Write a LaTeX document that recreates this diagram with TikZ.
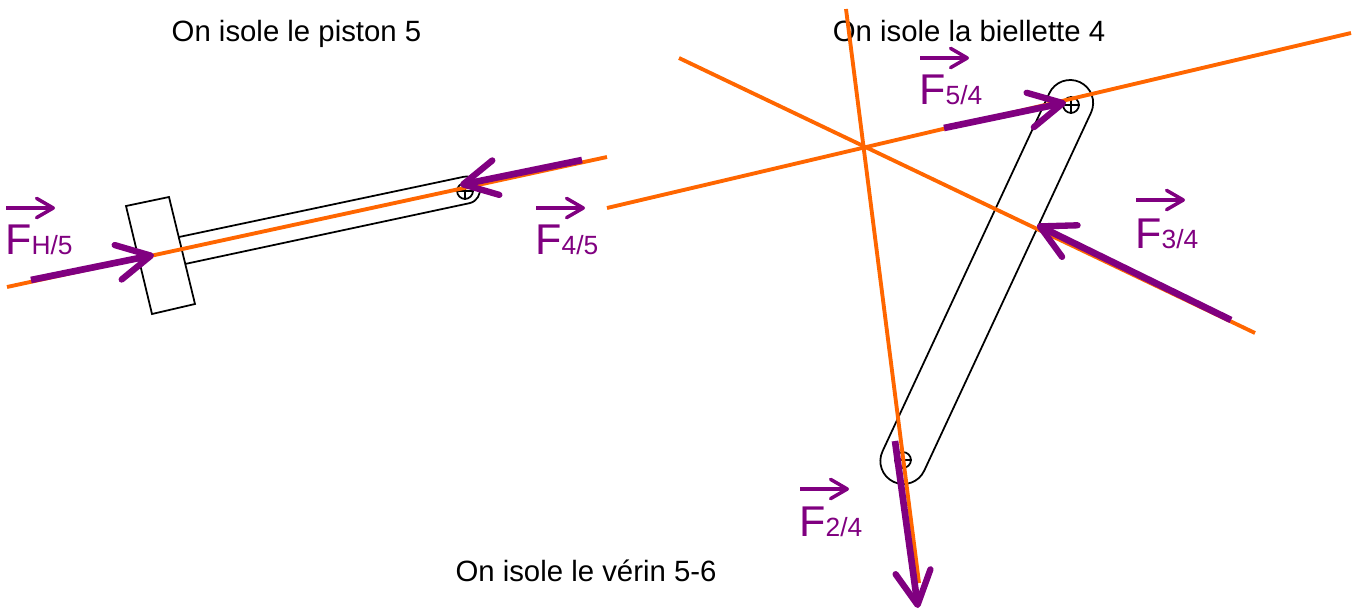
\documentclass[tikz,border=0pt]{standalone}
\usepackage{fontspec}
\setmainfont{Liberation Sans}
\usetikzlibrary{arrows.meta, positioning}
\definecolor{axe}{RGB}{255,102,0}
\definecolor{effort}{RGB}{128,0,128}

\begin{document}
\begin{tikzpicture}[
        x=0.02cm, y=0.02cm,
        titre/.style={anchor=base, font=\fontsize{16.7}{20}\selectfont},
        solide/.style={draw=black, line width=1pt},
        pivot/.style={circle, draw=black, line width=1pt, minimum size=9pt, inner sep=0pt},
        support/.style={draw=axe, line width=2.2pt},
        force/.style={draw=effort, line width=3.8pt, -{Straight Barb[round, length=19pt, width=20pt, line width=3.6pt]}},
        vecteur/.style={draw=effort, line width=2pt, -{Straight Barb[round, length=9.5pt, width=11pt, line width=2pt]}},
        nomforce/.style={text=effort, anchor=base west, inner sep=0pt, font=\fontsize{24.5}{29}\selectfont}
    ]
        \useasboundingbox (0,0) rectangle (1359,-609);

        % Titles
        \node[titre] (T1) at (296.5,-41) {On isole le piston 5};
        \node[titre] (T2) at (969,-41) {On isole la biellette 4};
        \node[titre] (T3) at (586,-581) {On isole le vérin 5-6};

        % Piston 5
        \coordinate (R1) at (126,-206);
        \coordinate (R2) at (169,-197);
        \coordinate (R3) at (195,-304);
        \coordinate (R4) at (152,-314);
        \draw[solide] (R1) -- (R2) -- (R3) -- (R4) -- cycle;
        \coordinate (S1) at (179,-237);
        \coordinate (S2) at (185,-264);
        \draw[solide] (S1) -- (463.7,-176.8) arc[start angle=102, end angle=-78, radius=13.5] -- (S2);
        \node[pivot] (P5) at (465,-191) {};
        \draw[solide] (P5.north) -- (P5.south) (P5.west) -- (P5.east);

        % Biellette 4
        \draw[solide] (1091,-112.7) arc[start angle=-25, end angle=155, radius=23]
            -- (882.5,-451.3) arc[start angle=155, end angle=335, radius=23] -- cycle;
        \node[pivot] (P4a) at (1071,-105) {};
        \node[pivot] (P4b) at (903,-460) {};
        \foreach \p in {P4a,P4b}
            \draw[solide] (\p.north) -- (\p.south) (\p.west) -- (\p.east);

        % Supports
        \coordinate (A1) at (7,-287);
        \coordinate (A2) at (607,-157);
        \coordinate (B1) at (607,-208);
        \coordinate (B2) at (1351,-33);
        \coordinate (C1) at (679,-58);
        \coordinate (C2) at (1255,-333);
        \coordinate (D1) at (846,-9);
        \coordinate (D2) at (919,-583);
        \draw[support] (A1) -- (A2);
        \draw[support] (B1) -- (B2);
        \draw[support] (C1) -- (C2);
        \draw[support] (D1) -- (D2);

        % Forces
        \coordinate (H5a) at (31,-280);
        \coordinate (H5b) at (154,-255);
        \coordinate (45a) at (582,-160);
        \coordinate (45b) at (460,-185);
        \coordinate (54a) at (944,-128);
        \coordinate (54b) at (1066,-102.5);
        \coordinate (34a) at (1231,-320);
        \coordinate (34b) at (1037,-225);
        \coordinate (24a) at (895,-441);
        \coordinate (24b) at (918,-608);
        \foreach \f in {H5,45,54,34,24}
            \draw[force] (\f a) -- (\f b);

        % Labels
        \foreach \f/\x/\y/\s/\vy in {H5/5/254/{H/5}/208, 45/535/254/{4/5}/208, 54/919/104/{5/4}/58, 34/1135/248/{3/4}/200, 24/799/536/{2/4}/489} {
            \node[nomforce] (N\f) at (\x,-\y) {F{\fontsize{15}{18}\selectfont\s}};
            \coordinate (V\f) at (\x+1,-\vy);
            \coordinate (W\f) at (\x+50,-\vy);
            \draw[vecteur] (V\f) -- (W\f);
        }
    \end{tikzpicture}
\end{document}
